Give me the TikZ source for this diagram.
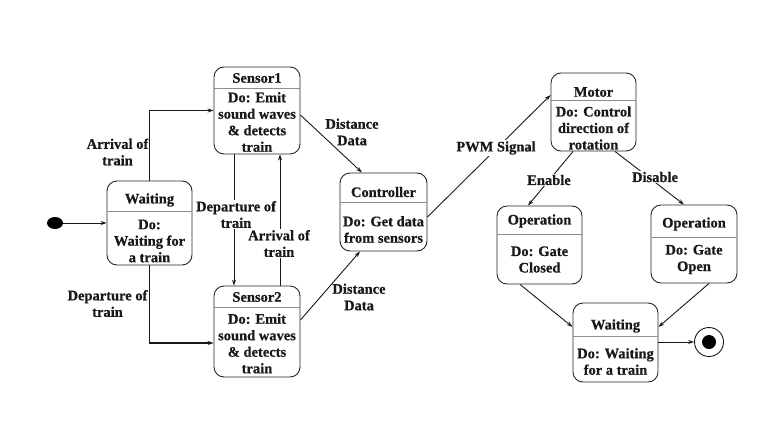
\documentclass[tikz,border=0pt]{standalone}
\usepackage{fontspec}
\setmainfont{Liberation Serif}[BoldFont={Liberation Serif Bold}]
\newfontfamily\tnrb{Liberation Serif Bold}[FakeBold=0.6]
\usetikzlibrary{arrows.meta,shapes.geometric}
\newcommand{\lbf}{\tnrb\fontsize{14.5pt}{16.5pt}\selectfont}
\tikzset{
  sbox/.style={draw=black!85, line width=0.9pt, rounded corners=10pt, inner sep=0pt},
  div/.style={draw=black!45, line width=0.7pt},
  txt/.style={font=\lbf, align=center, inner sep=0pt, text=black!90},
  lbl/.style={font=\lbf, align=center, fill=white, inner sep=1pt, text=black!90},
  conn/.style={draw=black!90, line width=0.9pt, -{Stealth[length=6pt,width=4pt]}},
  thick conn/.style={conn, line width=1.6pt}
}
\begin{document}
\begin{tikzpicture}[x=1pt,y=-1pt]
\useasboundingbox (0,0) rectangle (767,431);
% initial
\node[ellipse, fill=black, minimum width=16pt, minimum height=12pt, inner sep=0pt] (init) at (55,223) {};
% Waiting
\node[sbox, minimum width=85pt, minimum height=84pt] (wait) at (149.5,223) {};
\draw[div] ([yshift=-31pt]wait.north west) -- ([yshift=-31pt]wait.north east);
\node[txt] (waitT) at (149.5,200) {Waiting};
\node[txt] (waitB) at (149.5,241) {Do:\\Waiting for\\a train};
% Sensor1
\node[sbox, minimum width=86pt, minimum height=87pt] (s1) at (257,110.5) {};
\draw[div] ([yshift=-22pt]s1.north west) -- ([yshift=-22pt]s1.north east);
\node[txt] (s1T) at (257,78) {Sensor1};
\node[txt] (s1B) at (257,122) {Do: Emit\\sound waves\\\& detects\\train};
% Sensor2
\node[sbox, minimum width=86pt, minimum height=91pt] (s2) at (257,331.5) {};
\draw[div] ([yshift=-22pt]s2.north west) -- ([yshift=-22pt]s2.north east);
\node[txt] (s2T) at (257,297) {Sensor2};
\node[txt] (s2B) at (257,343.5) {Do: Emit\\sound waves\\\& detects\\train};
% Controller
\node[sbox, minimum width=87pt, minimum height=78pt] (ctrl) at (383.5,212) {};
\draw[div] ([yshift=-30pt]ctrl.north west) -- ([yshift=-30pt]ctrl.north east);
\node[txt] (ctrlT) at (383.5,192) {Controller};
\node[txt] (ctrlB) at (383.5,229.5) {Do: Get data\\from sensors};
% Motor
\node[sbox, minimum width=85pt, minimum height=78pt] (motor) at (593.5,112) {};
\draw[div] ([yshift=-28pt]motor.north west) -- ([yshift=-28pt]motor.north east);
\node[txt] (motorT) at (593.5,92) {Motor};
\node[txt] (motorB) at (593.5,128) {Do: Control\\direction of\\rotation};
% Operation 1
\node[sbox, minimum width=85pt, minimum height=78pt] (op1) at (539.5,245) {};
\draw[div] ([yshift=-29pt]op1.north west) -- ([yshift=-29pt]op1.north east);
\node[txt] (op1T) at (539.5,221) {Operation};
\node[txt] (op1B) at (539.5,259.5) {Do: Gate\\Closed};
% Operation 2
\node[sbox, minimum width=86pt, minimum height=78pt] (op2) at (694,244) {};
\draw[div] ([yshift=-33pt]op2.north west) -- ([yshift=-33pt]op2.north east);
\node[txt] (op2T) at (694,224) {Operation};
\node[txt] (op2B) at (694,259.5) {Do: Gate\\Open};
% Waiting 2
\node[sbox, minimum width=85pt, minimum height=79pt] (wait2) at (615.5,342.5) {};
\draw[div] ([yshift=-34pt]wait2.north west) -- ([yshift=-34pt]wait2.north east);
\node[txt] (wait2T) at (615.5,326) {Waiting};
\node[txt] (wait2B) at (615.5,361.5) {Do: Waiting\\for a train};
% final
\node[circle, draw=black!90, line width=0.9pt, minimum size=29pt, inner sep=0pt] (final) at (709,342) {};
\node[circle, fill=black, minimum size=14pt, inner sep=0pt] (finalin) at (709,342) {};

% connectors
\draw[conn] (init) -- (wait.west);
\draw[thick conn] (wait.north) |- (s1.west);
\draw[thick conn] (wait.south) |- ([yshift=-11.5pt]s2.west);
\draw[conn] ([xshift=-23pt]s1.south) -- ([xshift=-23pt]s2.north);
\draw[conn] ([xshift=23pt]s2.north) -- ([xshift=23pt]s1.south);
\draw[conn] ([yshift=-4.5pt]s1.east) -- ([xshift=-21.5pt]ctrl.north);
\draw[conn] ([yshift=11.5pt]s2.east) -- ([xshift=-23.5pt]ctrl.south);
\draw[conn] ([yshift=-5pt]ctrl.east) -- ([yshift=17pt]motor.west);
\draw[conn] ([xshift=-20.5pt]motor.south) -- ([xshift=-11.5pt]op1.north);
\draw[conn] ([xshift=21.5pt]motor.south) -- ([xshift=-10pt]op2.north);
\draw[conn] ([xshift=-19.5pt]op1.south) -- ([yshift=15.5pt]wait2.west);
\draw[conn] ([xshift=15pt]op2.south) -- ([yshift=15.5pt]wait2.east);
\draw[conn] (wait2.east |- final) -- (final.west);

% labels
\node[txt] (l1) at (117.5,152) {Arrival of\\train};
\node[txt] (l2) at (107.5,303.5) {Departure of\\train};
\node[lbl] (l3) at (236,214.5) {Departure of\\train};
\node[lbl] (l4) at (279,243.5) {Arrival of\\train};
\node[txt] (l5) at (352,132) {Distance\\Data};
\node[txt] (l6) at (359,297) {Distance\\Data};
\node[lbl] (l7) at (496,148) {PWM Signal};
\node[lbl] (l8) at (549,180) {Enable};
\node[lbl] (l9) at (655,177) {Disable};
\end{tikzpicture}
\end{document}
